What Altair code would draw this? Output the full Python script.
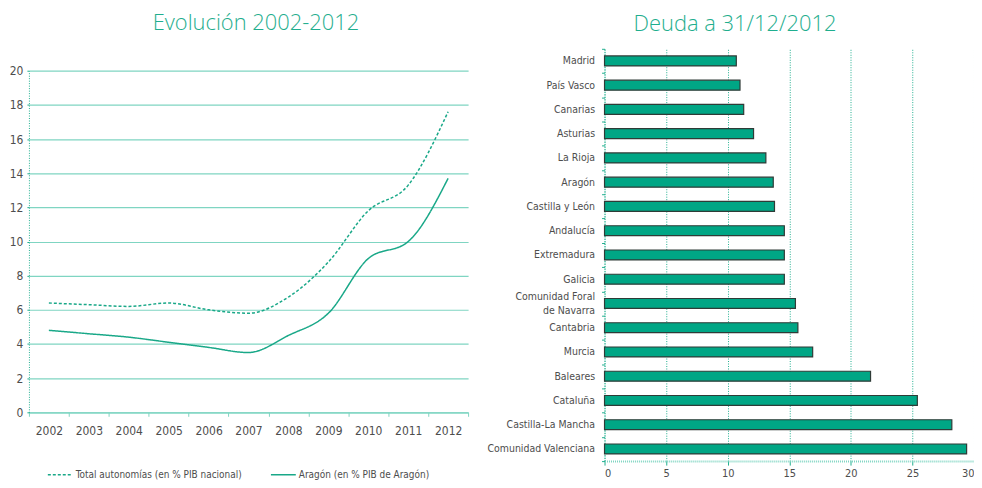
import altair as alt
import pandas as pd

# ---- data: left panel (Evolución 2002-2012) ----
years = ['2002', '2003', '2004', '2005', '2006', '2007', '2008', '2009', '2010', '2011', '2012']
total_autonomias = [6.4, 6.3, 6.2, 6.4, 6.0, 5.8, 6.75, 8.8, 11.8, 13.3, 17.6]
aragon = [4.8, 4.6, 4.4, 4.1, 3.8, 3.5, 4.5, 5.8, 9.0, 10.0, 13.7]
series_names = ['Total autonomías (en % PIB nacional)', 'Aragón (en % PIB de Aragón)']

# ---- data: right panel (Deuda a 31/12/2012) ----
regions = ['Madrid', 'País Vasco', 'Canarias', 'Asturias', 'La Rioja', 'Aragón',
           'Castilla y León', 'Andalucía', 'Extremadura', 'Galicia',
           'Comunidad Foral de Navarra', 'Cantabria', 'Murcia', 'Baleares',
           'Cataluña', 'Castilla-La Mancha', 'Comunidad Valenciana']
deuda = [10.7, 11.0, 11.3, 12.1, 13.1, 13.7, 13.8, 14.6, 14.6, 14.6,
         15.5, 15.7, 16.9, 21.6, 25.4, 28.2, 29.4]
x_ticks = [0, 5, 10, 15, 20, 25, 30]
y_ticks = [0, 2, 4, 6, 8, 10, 12, 14, 16, 18, 20]

TEAL = '#1fae8e'
LINE = '#19a888'
GRID = '#7fd5c2'
BAR = '#00a685'
LABEL = '#4d4d4d'
FONT = "'DejaVu Sans Condensed', 'Liberation Sans Narrow', sans-serif"
TFONT = "'Open Sans', 'Liberation Sans', sans-serif"

line_df = pd.DataFrame({
    'year': years * 2,
    'value': total_autonomias + aragon,
    'serie': [series_names[0]] * len(years) + [series_names[1]] * len(years),
})

bar_df = pd.DataFrame({'region': regions, 'deuda': deuda})

legend_cfg = dict(title=None, orient='none', legendX=18, legendY=414,
                  direction='horizontal', symbolType='stroke',
                  symbolSize=625, symbolStrokeWidth=1.4,
                  columnPadding=26, padding=0, labelOffset=2,
                  labelLimit=400, labelFont=FONT, labelFontSize=10,
                  labelColor=LABEL)

line_chart = alt.Chart(line_df).mark_line(interpolate='monotone', strokeWidth=1.5).encode(
    x=alt.X('year:O', title=None,
            scale=alt.Scale(type='band', paddingInner=0, paddingOuter=0),
            axis=alt.Axis(labelAngle=0, tickBand='extent', domainColor=GRID, domainWidth=1.2,
                          tickColor=GRID, tickSize=4, labelPadding=9, labelFont=FONT,
                          labelFontSize=12, labelColor=LABEL, grid=False)),
    y=alt.Y('value:Q', title=None,
            scale=alt.Scale(domain=[0, 20], nice=False),
            axis=alt.Axis(values=y_ticks, grid=True, gridColor=GRID, gridWidth=1.2,
                          domainColor=TEAL, domainDash=[1, 1.5], tickColor=TEAL, tickSize=2,
                          labelPadding=4, labelFont=FONT, labelFontSize=12, labelColor=LABEL,
                          minExtent=19, maxExtent=19)),
    color=alt.Color('serie:N', sort=series_names,
                    scale=alt.Scale(domain=series_names, range=[LINE, LINE]),
                    legend=alt.Legend(**legend_cfg)),
    strokeDash=alt.StrokeDash('serie:N', sort=series_names,
                              scale=alt.Scale(domain=series_names, range=[[3, 2], [1, 0]]),
                              legend=alt.Legend(**legend_cfg)),
).properties(width=441, height=343)

spacer = alt.Chart(pd.DataFrame({'t': [0]})).mark_point(opacity=0).encode(
    x=alt.value(0), y=alt.value(0)
).properties(
    width=441, height=1,
    title=alt.TitleParams('Evolución 2002-2012', font=TFONT, fontSize=22,
                          fontWeight=300, color=TEAL, offset=11, dx=7.5, frame='group'),
)

left = alt.vconcat(spacer, line_chart, spacing=13)

right = alt.Chart(bar_df).mark_bar(size=10, color=BAR, stroke='#2f3b37', strokeWidth=1.2).encode(
    x=alt.X('deuda:Q', title=None,
            scale=alt.Scale(domain=[0, 30], nice=False),
            axis=alt.Axis(values=x_ticks, grid=True, gridColor=TEAL, gridDash=[1, 1.5],
                          gridWidth=1, domainColor=GRID, domainDash=[1, 1], domainWidth=2,
                          tickColor=TEAL, tickSize=4, labelPadding=2, labelFont=FONT,
                          labelFontSize=11, labelColor=LABEL)),
    y=alt.Y('region:N', title=None, sort=regions,
            scale=alt.Scale(paddingInner=0, paddingOuter=0),
            axis=alt.Axis(tickBand='extent', domainColor=TEAL, domainDash=[1, 1.5],
                          tickColor=TEAL, tickSize=3, labelPadding=7, labelFont=FONT,
                          labelFontSize=10.5, labelColor=LABEL, labelLimit=300,
                          labelLineHeight=14,
                          labelOffset={'condition': {'test': "datum.value == 'Comunidad Foral de Navarra'",
                                                     'value': -7}, 'value': 0},
                          minExtent=124, maxExtent=124,
                          labelExpr="datum.label == 'Comunidad Foral de Navarra' ? ['Comunidad Foral', 'de Navarra'] : datum.label")),
).properties(
    width=371, height=414,
    title=alt.TitleParams('Deuda a 31/12/2012', font=TFONT, fontSize=22,
                          fontWeight=300, color=TEAL, offset=8, dx=-54.5, frame='group'),
)

chart = alt.hconcat(left, right, spacing=12).properties(
    autosize=alt.AutoSizeParams(type='none'),
    padding={'left': 21, 'top': 40, 'right': 949, 'bottom': 432},
).configure_view(stroke=None)

chart.save('out.html', embed_options={'renderer': 'svg', 'actions': False})
